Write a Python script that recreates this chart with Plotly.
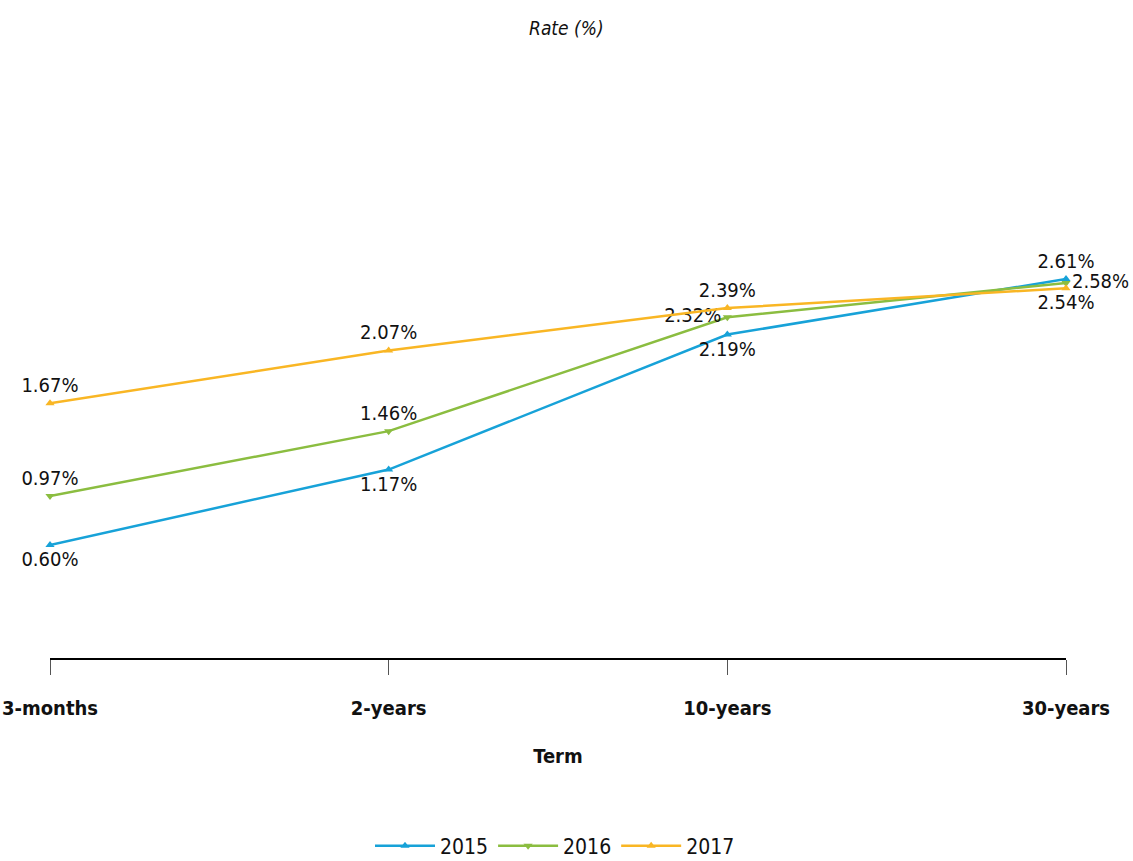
import plotly.graph_objects as go

terms = ["3-months", "2-years", "10-years", "30-years"]
years = ["2015", "2016", "2017"]
rates_2015 = [0.60, 1.17, 2.19, 2.61]
rates_2016 = [0.97, 1.46, 2.32, 2.58]
rates_2017 = [1.67, 2.07, 2.39, 2.54]

colors = ["#17a2d8", "#8bbd40", "#f9b624"]
symbols = ["triangle-up", "triangle-down", "triangle-up"]
label_pos = [
    ["bottom center", "bottom center", "bottom center", "top center"],
    ["top center", "top center", "middle left", "middle right"],
    ["top center", "top center", "top center", "bottom center"],
]

FONT = "Liberation Sans Narrow, DejaVu Sans Condensed, Arial Narrow, sans-serif"

W, H = 1133, 861
L, T = 50, 50
R, B = 67, 203
plot_h = H - T - B
plot_w = W - L - R

fig = go.Figure()
xs = list(range(len(terms)))
for name, vals, col, sym, pos in zip(years, [rates_2015, rates_2016, rates_2017], colors, symbols, label_pos):
    fig.add_trace(go.Scatter(
        x=xs, y=vals, name=name, mode="lines+markers+text",
        line=dict(color=col, width=2.5),
        marker=dict(symbol=sym, size=8, color=col),
        text=[f"{v:.2f}%" for v in vals],
        textposition=pos,
        textfont=dict(size=20, color="#111111", family=FONT),
        cliponaxis=False,
    ))

fig.update_layout(
    width=W, height=H,
    margin=dict(l=L, r=R, t=T, b=B, autoexpand=False),
    plot_bgcolor="white", paper_bgcolor="white",
    font=dict(family=FONT, color="#111111"),
    showlegend=True,
    legend=dict(orientation="h", x=(555 - L) / plot_w, xanchor="center",
                y=-(846 - (H - B)) / plot_h, yanchor="middle",
                font=dict(size=21, family=FONT), itemwidth=60),
    xaxis=dict(
        range=[0, 3], tickvals=xs, ticktext=[f"<b>{t}</b>" for t in terms],
        showgrid=False, zeroline=False, automargin=False, ticklabeloverflow="allow",
        showline=True, linecolor="black", linewidth=2,
        ticks="outside", ticklen=15, tickcolor="#555555", tickwidth=1,
        tickfont=dict(size=20, family=FONT), ticklabelstandoff=16,
        title=dict(text="<b>Term</b>", font=dict(size=20, family=FONT), standoff=30),
    ),
    yaxis=dict(range=[-0.254, 4.34], visible=False),
    annotations=[dict(text="<i>Rate (%)</i>", x=(566 - L) / plot_w, xref="paper",
                      y=((H - B) - 28) / plot_h, yref="paper", yanchor="middle",
                      showarrow=False, font=dict(size=19, family=FONT))],
)

fig.write_html("out.html", config={"displayModeBar": False},
               post_script="document.body.style.margin='0';document.body.style.overflow='hidden';")
